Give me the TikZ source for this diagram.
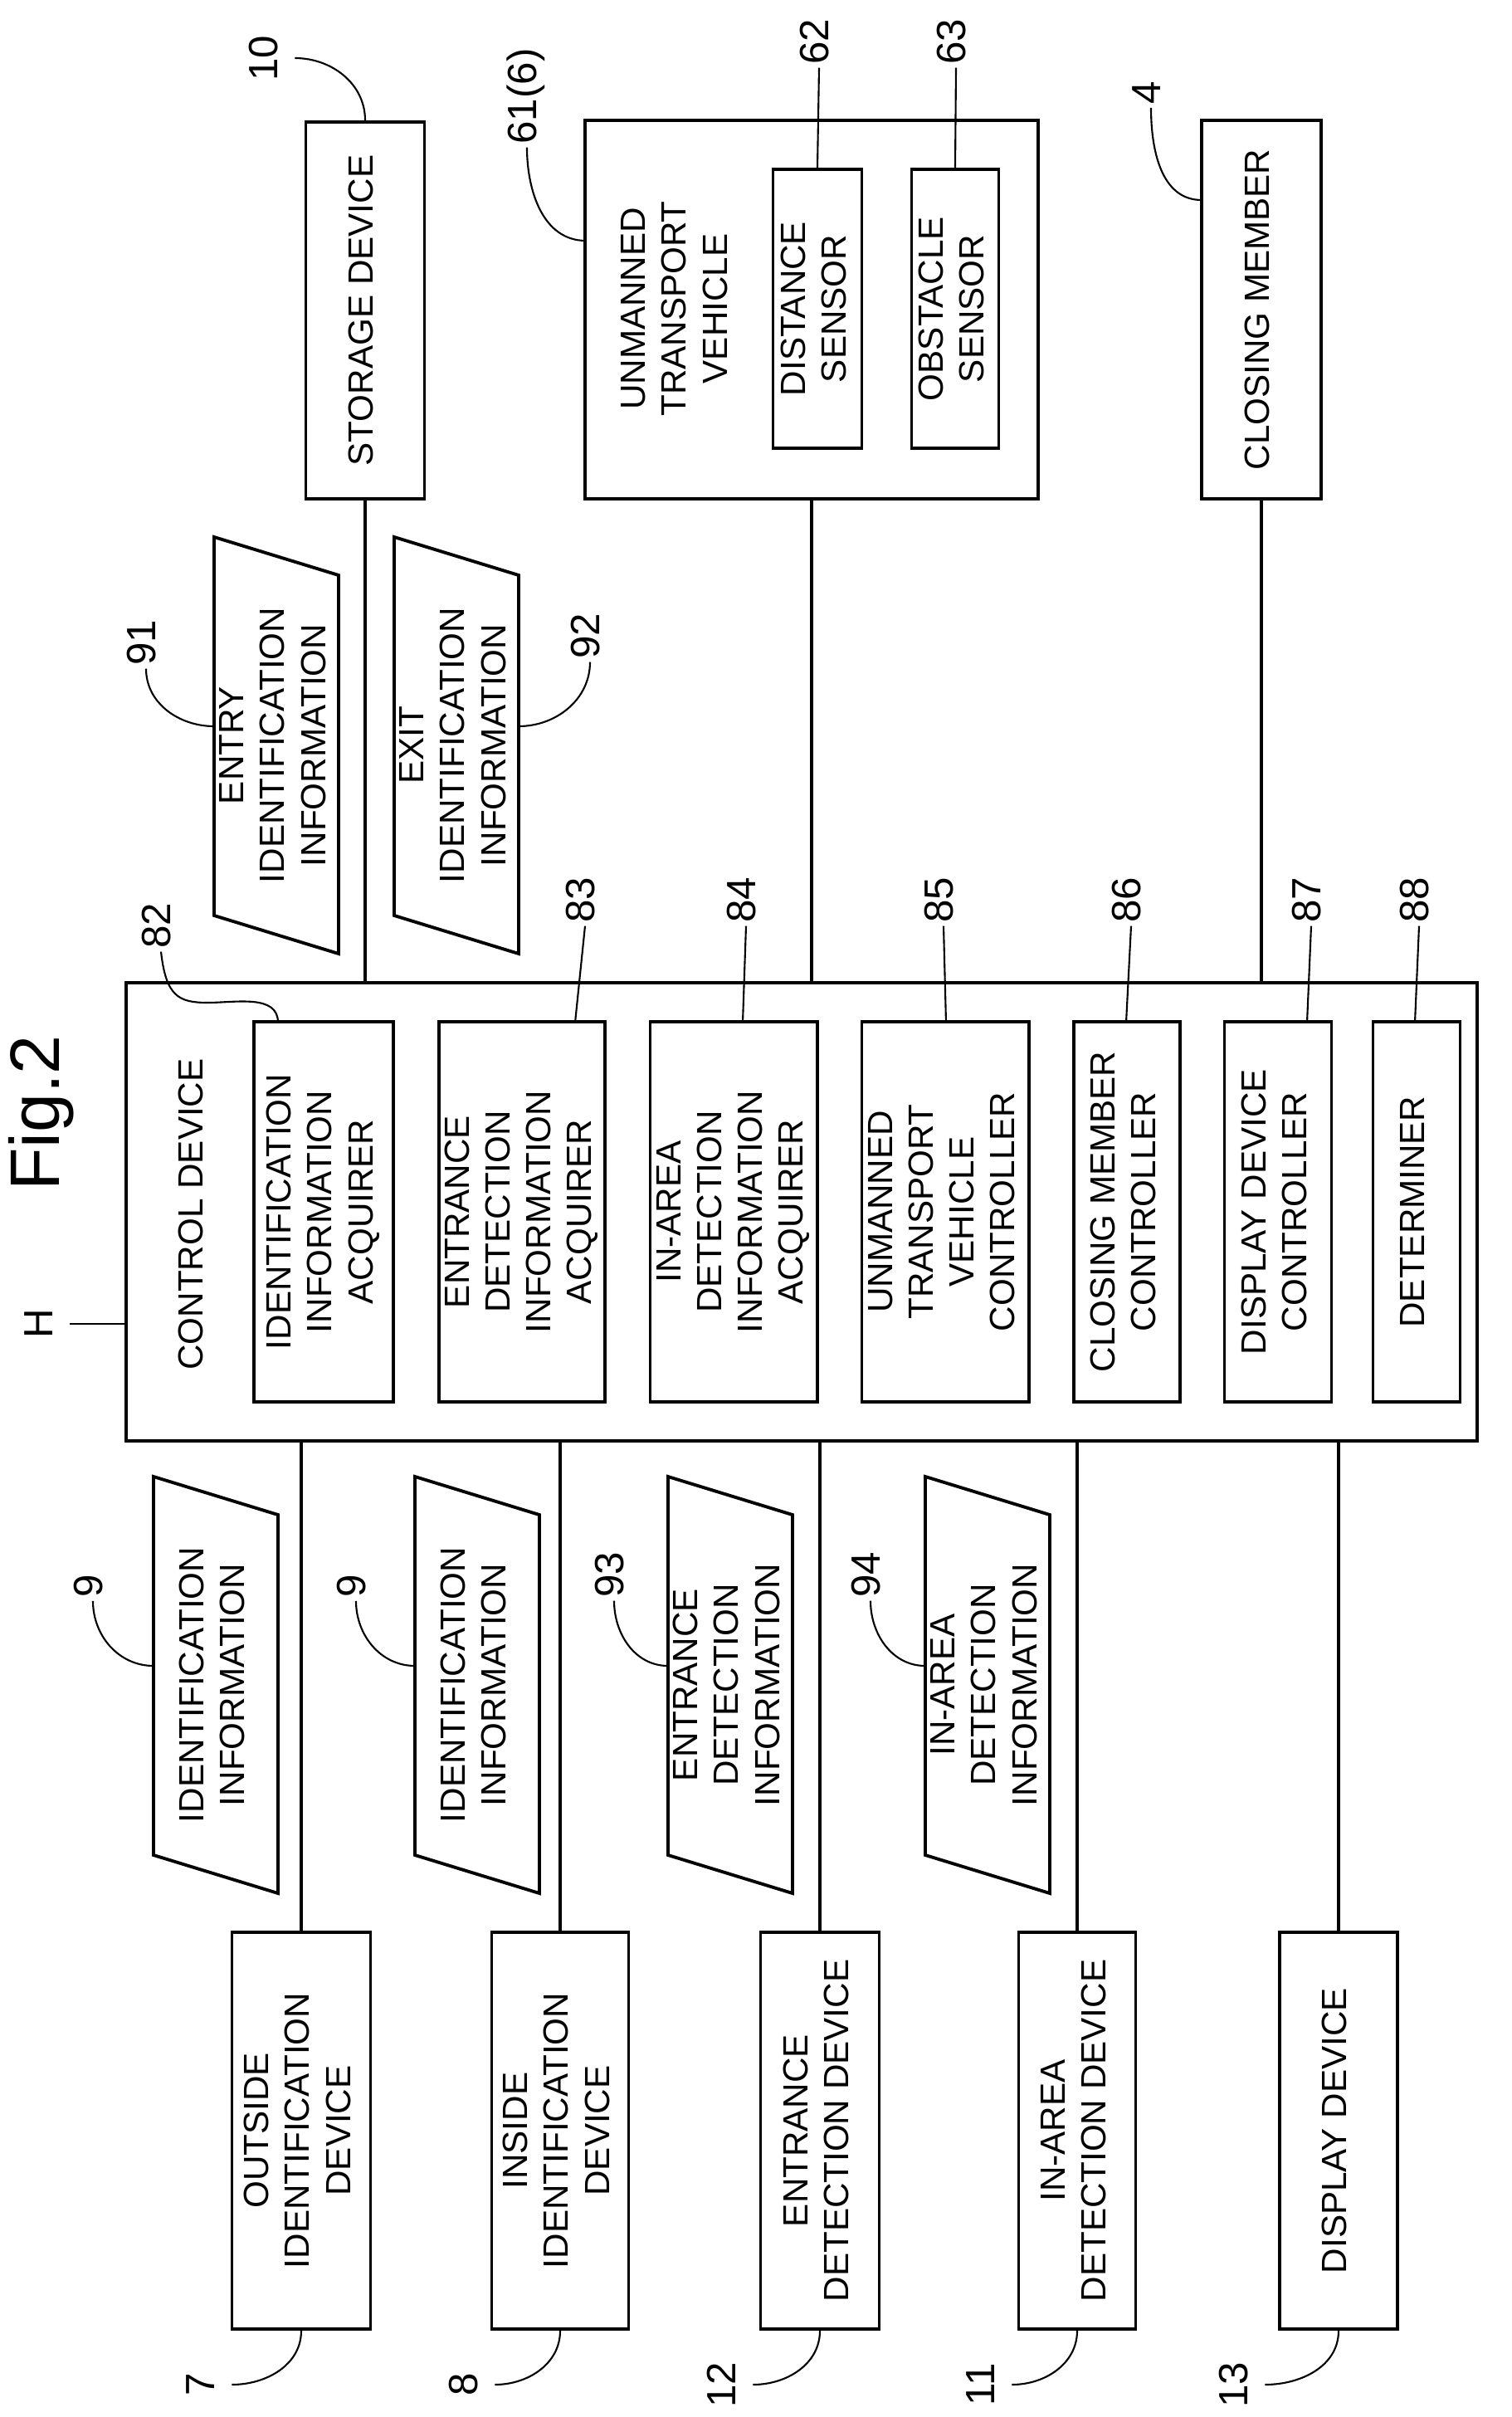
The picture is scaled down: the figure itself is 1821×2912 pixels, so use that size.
\documentclass[tikz,border=0pt]{standalone}
\usepackage{fontspec}
\setmainfont{Liberation Sans}
\usepackage{graphicx}
\newcommand\rot[1]{\rotatebox{90}{\begin{tabular}{@{}c@{}}#1\end{tabular}}}
% data block: name, x, y, text
\newcommand\datablk[4]{%
  \draw[box] (#2-75,#3-251) -- (#2+75,#3-205) -- (#2+75,#3+251) -- (#2-75,#3+205) -- cycle;
  \node (#1) at (#2,#3) {\rot{#4}};
  \coordinate (#1-w) at (#2-75,#3-23);
  \coordinate (#1-e) at (#2+75,#3-23);
}
\tikzset{
  box/.style={draw,line width=1.1pt,inner sep=0pt},
  conn/.style={line width=1pt},
  lead/.style={line width=0.6pt},
  num/.style={font=\fontsize{14}{16}\selectfont,inner sep=1pt},
}
\begin{document}
\begin{tikzpicture}[x=0.01cm,y=-0.01cm,font=\fontsize{12}{14}\selectfont]
  \useasboundingbox (0,0) rectangle (1821,2912);
  % top row
  \node[box,minimum width=1.43cm,minimum height=4.54cm] (sto) at (440,374) {\rot{STORAGE DEVICE}};
  \node[box,minimum width=5.45cm,minimum height=4.56cm] (utv) at (978,373) {};
  \node at (817,372) {\rot{UNMANNED\\TRANSPORT\\VEHICLE}};
  \node[box,minimum width=1.07cm,minimum height=3.35cm] (dist) at (985,372) {\rot{DISTANCE\\SENSOR}};
  \node[box,minimum width=1.05cm,minimum height=3.35cm] (obs) at (1151,372) {\rot{OBSTACLE\\SENSOR}};
  \node[box,minimum width=1.44cm,minimum height=4.56cm] (clo) at (1520,373) {\rot{CLOSING MEMBER}};
  \datablk{ent}{333}{898}{ENTRY\\IDENTIFICATION\\INFORMATION}
  \datablk{exi}{550}{898}{EXIT\\IDENTIFICATION\\INFORMATION}
  % control device
  \node[font=\fontsize{24}{26}\selectfont] (fig) at (53,1341) {\rot{Fig.2}};
  \node[box,minimum width=16.27cm,minimum height=5.51cm] (ctl) at (966,1460) {};
  \node at (235,1463) {\rot{CONTROL DEVICE}};
  \node[box,minimum width=1.68cm,minimum height=4.57cm] (idacq) at (390,1460) {\rot{IDENTIFICATION\\INFORMATION\\ACQUIRER}};
  \node[box,minimum width=2.00cm,minimum height=4.57cm] (enacq) at (629,1460) {\rot{ENTRANCE\\DETECTION\\INFORMATION\\ACQUIRER}};
  \node[box,minimum width=2.01cm,minimum height=4.57cm] (inacq) at (884,1460) {\rot{IN-AREA\\DETECTION\\INFORMATION\\ACQUIRER}};
  \node[box,minimum width=2.01cm,minimum height=4.57cm] (utvctl) at (1139,1460) {\rot{UNMANNED\\TRANSPORT\\VEHICLE\\CONTROLLER}};
  \node[box,minimum width=1.28cm,minimum height=4.57cm] (clctl) at (1358,1460) {\rot{CLOSING MEMBER\\CONTROLLER}};
  \node[box,minimum width=1.29cm,minimum height=4.57cm] (dsctl) at (1540,1460) {\rot{DISPLAY DEVICE\\CONTROLLER}};
  \node[box,minimum width=1.05cm,minimum height=4.57cm] (det) at (1707,1460) {\rot{DETERMINER}};
  % bottom row
  \datablk{ida}{260}{2030}{IDENTIFICATION\\INFORMATION}
  \datablk{idb}{575}{2030}{IDENTIFICATION\\INFORMATION}
  \datablk{end}{880}{2030}{ENTRANCE\\DETECTION\\INFORMATION}
  \datablk{ind}{1190}{2030}{IN-AREA\\DETECTION\\INFORMATION}
  \node[box,minimum width=1.67cm,minimum height=4.78cm] (outid) at (363,2567) {\rot{OUTSIDE\\IDENTIFICATION\\DEVICE}};
  \node[box,minimum width=1.65cm,minimum height=4.78cm] (inid) at (675,2567) {\rot{INSIDE\\IDENTIFICATION\\DEVICE}};
  \node[box,minimum width=1.43cm,minimum height=4.78cm] (endev) at (988,2567) {\rot{ENTRANCE\\DETECTION DEVICE}};
  \node[box,minimum width=1.41cm,minimum height=4.78cm] (indev) at (1298,2567) {\rot{IN-AREA\\DETECTION DEVICE}};
  \node[box,minimum width=1.42cm,minimum height=4.78cm] (disp) at (1613,2567) {\rot{DISPLAY DEVICE}};
  % connectors
  \draw[conn] (sto.south) -- (sto.south |- ctl.north);
  \draw[conn] (utv.south) -- (utv.south |- ctl.north);
  \draw[conn] (clo.south) -- (clo.south |- ctl.north);
  \foreach \d in {outid,inid,endev,indev,disp}
    \draw[conn] (ctl.south -| \d.north) -- (\d.north);
  % reference numbers
  \node[num] (l10) at (323,70) {\rot{10}};
  \node[num] (l61) at (635,116) {\rot{61(6)}};
  \node[num] (l62) at (987,50) {\rot{62}};
  \node[num] (l63) at (1152,50) {\rot{63}};
  \node[num] (l4) at (1387,112) {\rot{4}};
  \node[num] (l91) at (176,774) {\rot{91}};
  \node[num] (l92) at (711,766) {\rot{92}};
  \node[num] (H) at (52,1595) {\rot{H}};
  \node[num] (l82) at (194,1115) {\rot{82}};
  \node[num] (l9a) at (112,1911) {\rot{9}};
  \node[num] (l9b) at (429,1911) {\rot{9}};
  \node[num] (l93) at (740,1897) {\rot{93}};
  \node[num] (l94) at (1049,1897) {\rot{94}};
  \foreach \n/\x/\t in {83/705/693,84/899/895,85/1137/1140,86/1363/1357,87/1580/1575,88/1710/1705} {
    \node[num] (l\n) at (\x,1084) {\rot{\n}};
    \coordinate (a\n) at (\t,1232);
    \draw[lead] (l\n.south) -- (a\n);
  }
  \foreach \n/\x/\d in {7/247/outid,8/564/inid,12/875/endev,11/1187/indev,13/1492/disp} {
    \node[num] (l\n) at (\x,2873) {\rot{\n}};
    \draw[lead] (\d.south) to[out=-90,in=0] (l\n.east);
  }
  \coordinate (utv-l) at (706,290);
  \coordinate (clo-l) at (1448,241);
  \coordinate (a82) at (335,1232);
  \draw[lead] (l10.east) to[out=0,in=90] (sto.north);
  \draw[lead] (l61.south) to[out=-90,in=180] (utv-l);
  \draw[lead] (l62.south) -- (dist.north);
  \draw[lead] (l63.south) -- (obs.north);
  \draw[lead] (l4.south) to[out=-90,in=180] (clo-l);
  \draw[lead] (l91.south) to[out=-90,in=180] (ent-w);
  \draw[lead] (l92.south) to[out=-90,in=0] (exi-e);
  \draw[lead] (H.east) -- (ctl.west |- H.east);
  \draw[lead] (l82.south) .. controls (200,1200) and (215,1208) .. (250,1208) to[out=0,in=90] (a82);
  \draw[lead] (l9a.south) to[out=-90,in=180] (ida-w);
  \draw[lead] (l9b.south) to[out=-90,in=180] (idb-w);
  \draw[lead] (l93.south) to[out=-90,in=180] (end-w);
  \draw[lead] (l94.south) to[out=-90,in=180] (ind-w);
\end{tikzpicture}
\end{document}
